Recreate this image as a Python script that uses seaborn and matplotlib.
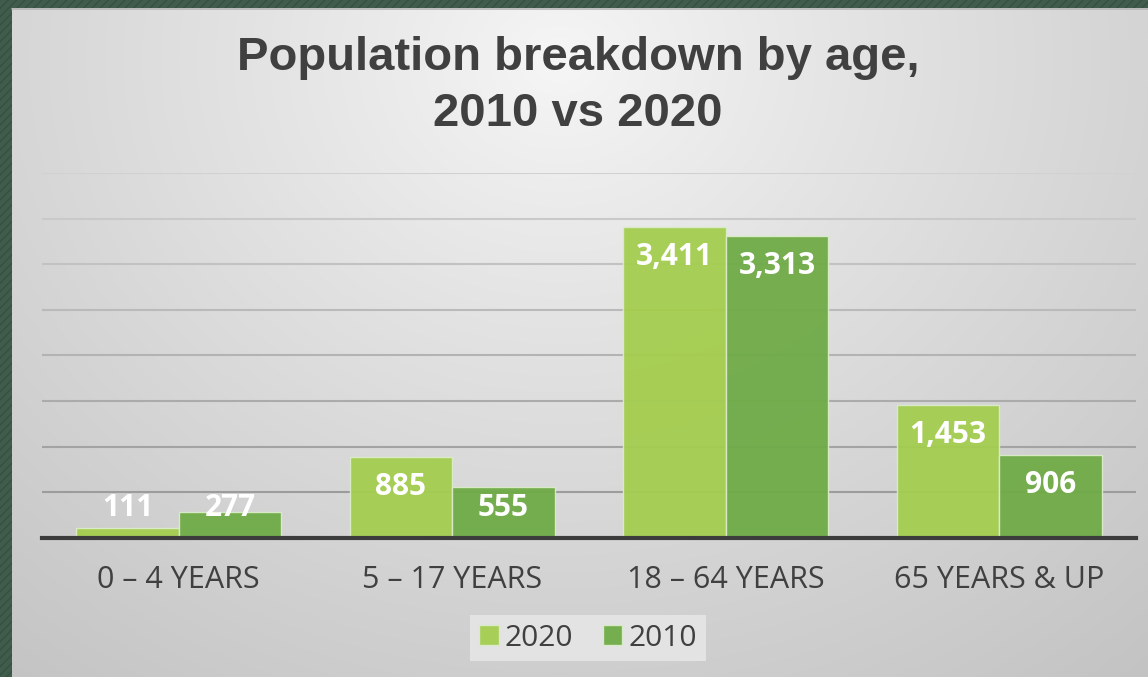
import numpy as np
import pandas as pd
import matplotlib
matplotlib.use("Agg")
import matplotlib.pyplot as plt
from matplotlib.patches import Rectangle
import seaborn as sns

# ---- data ----
categories = ["0 \u2013 4 YEARS", "5 \u2013 17 YEARS", "18 \u2013 64 YEARS", "65 YEARS & UP"]
years = ["2020", "2010"]
values_2020 = [111, 885, 3411, 1453]
values_2010 = [277, 555, 3313, 906]
title_text = "Population breakdown by age,\n2010 vs 2020"

df = pd.DataFrame({
    "age": categories * 2,
    "year": [years[0]] * len(categories) + [years[1]] * len(categories),
    "pop": values_2020 + values_2010,
})

sns.set_theme(style="white")
plt.rcParams["font.family"] = ["Open Sans", "DejaVu Sans"]

W, H = 1148, 677
fig = plt.figure(figsize=(W / 100, H / 100), dpi=100)

# ---- background: green frame + radial gradient panel ----
bg = fig.add_axes([0, 0, 1, 1], zorder=-10)
bg.set_xlim(0, W)
bg.set_ylim(H, 0)
bg.axis("off")
bg.add_patch(Rectangle((0, 0), W, H, facecolor="#405c4c", edgecolor="#37503f",
                       hatch="////", linewidth=0))
yy, xx = np.mgrid[0:H - 8, 0:W - 12]
cx, cy = 560, 60
d = np.sqrt(((xx + 12 - cx) / 1.15) ** 2 + ((yy + 8 - cy) * 1.0) ** 2)
d = d / d.max()
c = 0.965 - 0.20 * np.clip(d, 0, 1) ** 0.9
img = np.dstack([c, c, c])
bg.imshow(img, extent=(12, W, H, 8), aspect="auto", zorder=1)
bg.plot([12, W], [8.5, 8.5], color="#b5b5b5", lw=1.2, zorder=2)

# ---- plot axes ----
ax = fig.add_axes([42 / W, 139.3 / H, (1136 - 42) / W, 364.8 / H])
ax.patch.set_alpha(0)

palette = {"2020": "#a4cd4e", "2010": "#6fab47"}
sns.barplot(data=df, x="age", y="pop", hue="year", hue_order=years, order=categories,
            palette=palette, width=0.75, gap=0, saturation=1, ax=ax,
            edgecolor="#dbecc9", linewidth=1.0, alpha=0.95, zorder=3)

ax.set_ylim(0, 4000)
ax.set_yticks(np.arange(0, 4001, 500))
ax.set_yticklabels([])
ax.tick_params(axis="y", length=0)
ax.yaxis.grid(True, linewidth=1.5, zorder=0)
ax.set_axisbelow(True)
glines = ax.get_ygridlines()
n = len(glines)
for i, gl in enumerate(glines):
    frac = i / max(n - 1, 1)
    g = 0.58 + 0.24 * frac
    gl.set_color((g, g, g))
for s in ["top", "right", "left"]:
    ax.spines[s].set_visible(False)
ax.spines["bottom"].set_color("#3c3c3c")
ax.spines["bottom"].set_linewidth(3.0)
ax.spines["bottom"].set_zorder(5)
ax.set_xlabel("")
ax.set_ylabel("")
ax.tick_params(axis="x", length=0, pad=20, labelsize=22, labelcolor="#404040")

# data labels
for cont in ax.containers:
    for bar in cont:
        v = bar.get_height()
        x = bar.get_x() + bar.get_width() / 2
        y = max(v, 654) - 329
        ax.text(x, y, f"{int(round(v)):,}", ha="center", va="center",
                color="white", fontsize=21.5, fontweight="bold", zorder=6)

# legend
leg = ax.legend(loc="center", bbox_to_anchor=(588 / W, 39 / H),
                bbox_transform=fig.transFigure, ncol=2, frameon=True,
                fontsize=21.5, handlelength=0.65, handleheight=0.65,
                handletextpad=0.2, columnspacing=1.0, borderpad=0.3)
leg.get_frame().set_facecolor("#e3e3e3")
leg.get_frame().set_edgecolor("none")
leg.get_frame().set_alpha(1)
leg.get_frame().set_boxstyle("square", pad=0.0)
for t in leg.get_texts():
    t.set_color("#404040")
leg.set_title(None)

# title
fig.text(578 / W, 1 - 86 / H, title_text, ha="center", va="center",
         fontsize=34, fontweight="bold", color="#404040",
         family=["Liberation Sans", "DejaVu Sans"], linespacing=1.33)

fig.savefig("out.png", dpi=100)
